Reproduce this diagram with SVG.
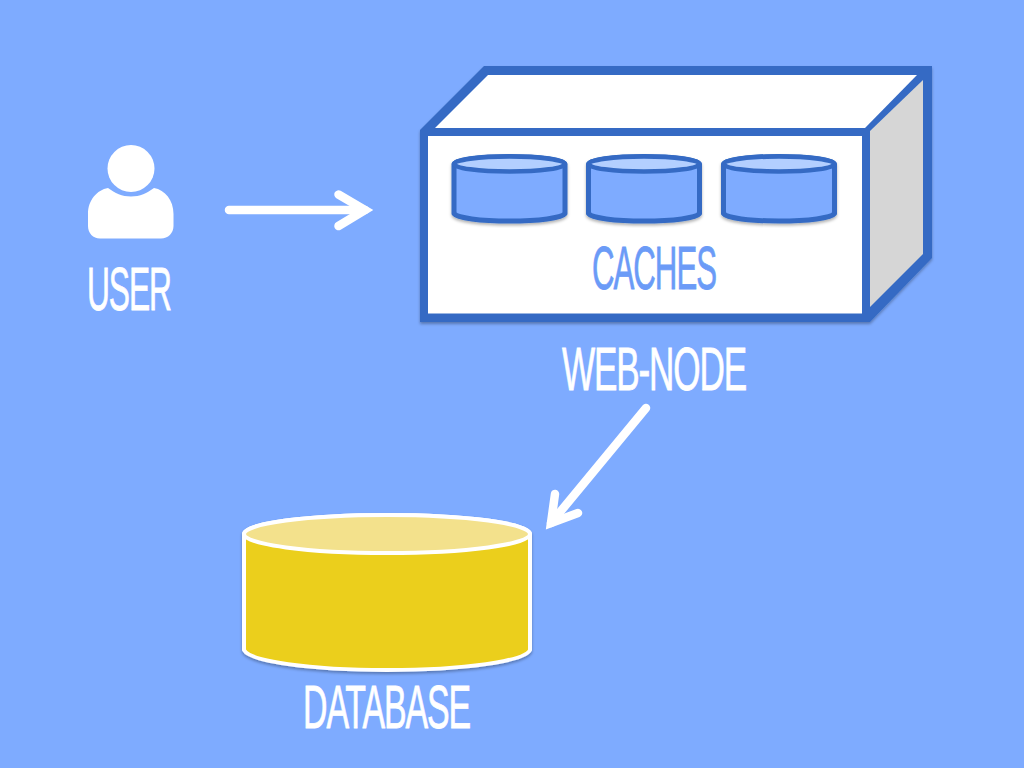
<svg xmlns="http://www.w3.org/2000/svg" width="1024" height="768" viewBox="0 0 1024 768">
  <style>
    .lbl { font-family: "Liberation Sans Narrow", "Liberation Sans", Arial, sans-serif; font-size: 62px; letter-spacing: -2px; fill: #ffffff; stroke: #ffffff; stroke-width: 0.8; }
    .cyl { fill: #7eabff; stroke: #346bc4; stroke-width: 5; stroke-linejoin: round; }
    .cyltop { fill: #b3cfff; stroke: #346bc4; stroke-width: 4.5; }
    .wire { fill: none; stroke: #ffffff; stroke-width: 8.5; stroke-linecap: round; }
  </style>
  <defs>
    <filter id="sh" x="-5%" y="-5%" width="110%" height="115%">
      <feDropShadow dx="0" dy="2" stdDeviation="1.5" flood-color="#000000" flood-opacity="0.3"/>
    </filter>
    <path id="cache" class="cyl" d="M0 9 A55.5 8 0 0 1 111 9 V58 C108 62.500 85 65.500 55.500 65.500 C26 65.500 3 62.500 0 58 Z"/>
  </defs>
  <rect width="1024" height="768" fill="#7eabff"/>

  <g id="user">
    <circle cx="131" cy="168.5" r="23.5" fill="#ffffff"/>
    <path d="M108 188 C115 193 122 196.500 131 196.500 C140 196.500 147 193 154 188 C165 190 173.500 200 173.500 214 V226 C173.500 233 168 238.500 161 238.500 H100 C93 238.500 88 233 88 226 V214 C88 200 97 190 108 188 Z" fill="#ffffff"/>
    <text class="lbl" x="87" y="310" textLength="84" lengthAdjust="spacingAndGlyphs">USER</text>
  </g>

  <g id="web-node">
    <path filter="url(#sh)" d="M420 130 L484 66 H932 V258 L870 322 H420 Z" fill="#346bc4"/>
    <path d="M435 128 L488 75 H917 L865 128 Z" fill="#ffffff"/>
    <path d="M870 131 L923 80 V254 L870 307 Z" fill="#d6d6d6"/>
    <rect x="428" y="136" width="434" height="177.500" fill="#ffffff"/>
    <text x="592" y="289" textLength="124" lengthAdjust="spacingAndGlyphs" class="lbl" style="fill:#6b9bf7;stroke:#6b9bf7">CACHES</text>
    <text class="lbl" x="562" y="390" textLength="184" lengthAdjust="spacingAndGlyphs">WEB-NODE</text>
  </g>

  <g id="cache-1" filter="url(#sh)" transform="translate(454 155.500)">
    <use href="#cache"/>
    <ellipse class="cyltop" cx="55.500" cy="8.500" rx="55.500" ry="7.500"/>
  </g>
  <g id="cache-2" filter="url(#sh)" transform="translate(588.500 155.500)">
    <use href="#cache"/>
    <ellipse class="cyltop" cx="55.500" cy="8.500" rx="55.500" ry="7.500"/>
  </g>
  <g id="cache-3" filter="url(#sh)" transform="translate(723.500 155.500)">
    <use href="#cache"/>
    <ellipse class="cyltop" cx="55.500" cy="8.500" rx="55.500" ry="7.500"/>
  </g>

  <g id="database">
    <g filter="url(#sh)">
      <path d="M244 534 A143 19 0 0 1 530 534 V650 C525 661 465 670 387 670 C309 670 249 661 244 650 Z" fill="#ebcf1a" stroke="#ffffff" stroke-width="4" stroke-linejoin="round"/>
      <ellipse cx="387" cy="534" rx="143" ry="19" fill="#f3e18c" stroke="#ffffff" stroke-width="4"/>
    </g>
    <text class="lbl" x="303" y="728" textLength="167" lengthAdjust="spacingAndGlyphs">DATABASE</text>
  </g>

  <g id="connectors">
    <g class="wire">
      <path d="M229 210 H365"/>
      <path d="M338.500 194.500 L365 210 L338.500 226" stroke-linejoin="miter" stroke-miterlimit="6"/>
      <path d="M646 408 L551 523"/>
      <path d="M555 494 L551 523 L578 513" stroke-linejoin="miter" stroke-miterlimit="6"/>
    </g>
  </g>
</svg>
